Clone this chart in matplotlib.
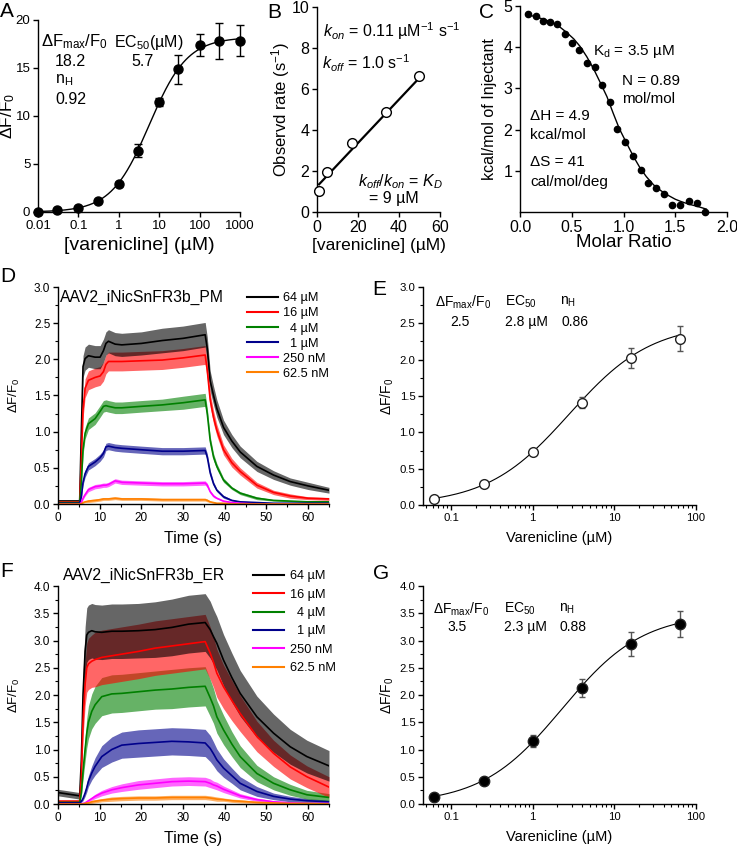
import numpy as np
import matplotlib
matplotlib.use('Agg')
import matplotlib.pyplot as plt
from matplotlib.ticker import MultipleLocator, FixedLocator, LogLocator, NullFormatter, FormatStrFormatter
from matplotlib.lines import Line2D

plt.rcParams['font.family'] = ['Liberation Sans', 'DejaVu Sans']
plt.rcParams['mathtext.fontset'] = 'custom'
plt.rcParams['mathtext.rm'] = 'Liberation Sans'
plt.rcParams['mathtext.it'] = 'Liberation Sans:italic'
plt.rcParams['mathtext.bf'] = 'Liberation Sans:bold'
plt.rcParams['axes.linewidth'] = 1.0
plt.rcParams['xtick.direction'] = 'out'
plt.rcParams['ytick.direction'] = 'out'

# ── A: varenicline dose response ─────────────────────────────────────────────
a_conc = [0.01, 0.03, 0.1, 0.3, 1, 3, 10, 30, 100, 300, 1000]
a_resp = [0.03, 0.17, 0.45, 1.15, 2.95, 6.4, 11.45, 14.85, 17.4, 17.8, 17.85]
a_err = [0.05, 0.08, 0.1, 0.12, 0.2, 0.7, 0.4, 1.5, 1.1, 1.85, 1.6]
a_top, a_ec50, a_nh = 18.2, 5.7, 0.92

# ── B: observed rate vs concentration ───────────────────────────────────────
b_conc = [1.0, 5.0, 17.0, 33.5, 50.0]
b_rate = [1.0, 1.93, 3.35, 4.86, 6.65]
b_line_x = [1.0, 50.0]
b_line_y = [1.35, 6.55]

# ── C: ITC isotherm ─────────────────────────────────────────────────────────
c_ratio = [0.08, 0.155, 0.22, 0.29, 0.36, 0.435, 0.5, 0.574, 0.65, 0.726, 0.797, 0.865,
           0.94, 1.016, 1.09, 1.168, 1.24, 1.316, 1.39, 1.468, 1.548, 1.63, 1.71, 1.79]
c_heat = [4.80, 4.76, 4.64, 4.60, 4.56, 4.31, 4.10, 3.93, 3.61, 3.51, 3.09, 2.66,
          2.02, 1.70, 1.37, 1.03, 0.70, 0.58, 0.44, 0.16, 0.16, 0.26, 0.22, 0.0]
c_fit_ratio = [0.07, 0.15, 0.25, 0.36, 0.45, 0.52, 0.58, 0.645, 0.71, 0.77, 0.84, 0.9, 0.96,
               1.03, 1.1, 1.16, 1.22, 1.29, 1.36, 1.42, 1.5, 1.55, 1.63, 1.71, 1.8]
c_fit_heat = [4.79, 4.74, 4.66, 4.54, 4.36, 4.2, 4.02, 3.77, 3.48, 3.17, 2.8, 2.4, 2.02,
              1.67, 1.33, 1.07, 0.86, 0.66, 0.52, 0.42, 0.31, 0.26, 0.19, 0.14, 0.07]

# ── D: PM traces (mean and s.e.m. band) ─────────────────────────────────────
trace_labels = ['64 µM', '16 µM', '  4 µM', '  1 µM', '250 nM', '62.5 nM']
trace_colors = ['#000000', '#ff0000', '#008000', '#00008b', '#ff00ff', '#ff8000']

d_time = [0, 5.2, 5.6, 6.0, 6.5, 7.3, 8.9, 10.1, 10.9, 11.5, 12.1, 13.7, 15.3, 20, 25, 30,
          35.3, 35.8, 36.5, 37.3, 38.1, 39.7, 41.7, 43.7, 47.7, 51.7, 55.7, 60, 65]
d_64 = [0.04, 0.04, 1.0, 1.9, 2.01, 2.05, 2.03, 2.03, 2.12, 2.22, 2.25, 2.21, 2.20, 2.22, 2.26, 2.29,
        2.34, 2.15, 1.70, 1.50, 1.32, 1.06, 0.87, 0.72, 0.52, 0.40, 0.31, 0.25, 0.19]
d_16 = [0.03, 0.03, 0.6, 1.3, 1.60, 1.71, 1.75, 1.77, 1.83, 1.93, 1.97, 1.97, 1.97, 1.98, 1.99, 2.02,
        2.06, 1.85, 1.44, 1.20, 1.02, 0.75, 0.57, 0.45, 0.26, 0.16, 0.11, 0.08, 0.07]
d_4 = [0.02, 0.02, 0.3, 0.75, 0.98, 1.11, 1.18, 1.28, 1.35, 1.36, 1.35, 1.33, 1.33, 1.35, 1.37, 1.40,
       1.44, 1.25, 0.88, 0.65, 0.52, 0.33, 0.22, 0.15, 0.08, 0.05, 0.04, 0.03, 0.03]
d_1 = [0.01, 0.01, 0.1, 0.30, 0.42, 0.52, 0.58, 0.64, 0.70, 0.79, 0.80, 0.78, 0.77, 0.75, 0.73, 0.73,
       0.74, 0.65, 0.43, 0.28, 0.19, 0.10, 0.05, 0.03, 0.02, 0.01, 0.01, 0.01, 0.01]
d_025 = [0.0, 0.0, 0.02, 0.08, 0.13, 0.20, 0.24, 0.25, 0.26, 0.26, 0.27, 0.32, 0.30, 0.29, 0.28, 0.28,
         0.29, 0.26, 0.17, 0.11, 0.08, 0.04, 0.02, 0.01, 0.0, 0.0, 0.0, 0.0, 0.0]
d_00625 = [0.0, 0.0, 0.0, 0.02, 0.03, 0.04, 0.05, 0.06, 0.07, 0.07, 0.07, 0.08, 0.07, 0.07, 0.06, 0.06,
           0.06, 0.05, 0.03, 0.02, 0.01, 0.01, 0.0, 0.0, 0.0, 0.0, 0.0, 0.0, 0.0]
d_64_sd = [0.02, 0.02, 0.1, 0.15, 0.16, 0.16, 0.16, 0.16, 0.16, 0.16, 0.16, 0.16, 0.16, 0.16, 0.17, 0.17,
           0.17, 0.16, 0.14, 0.13, 0.12, 0.1, 0.09, 0.08, 0.07, 0.06, 0.05, 0.05, 0.04]
d_16_sd = [0.02, 0.02, 0.08, 0.12, 0.13, 0.13, 0.13, 0.13, 0.13, 0.13, 0.13, 0.13, 0.13, 0.13, 0.13, 0.13,
           0.13, 0.12, 0.1, 0.09, 0.08, 0.07, 0.06, 0.05, 0.04, 0.03, 0.03, 0.02, 0.02]
d_4_sd = [0.01, 0.01, 0.04, 0.07, 0.08, 0.08, 0.08, 0.08, 0.08, 0.08, 0.08, 0.08, 0.08, 0.08, 0.08, 0.09,
          0.09, 0.08, 0.06, 0.05, 0.04, 0.03, 0.02, 0.02, 0.02, 0.01, 0.01, 0.01, 0.01]
d_1_sd = [0.01, 0.01, 0.02, 0.04, 0.05, 0.05, 0.05, 0.05, 0.05, 0.05, 0.05, 0.05, 0.05, 0.05, 0.05, 0.05,
          0.05, 0.05, 0.04, 0.03, 0.02, 0.02, 0.01, 0.01, 0.01, 0.01, 0.01, 0.01, 0.01]
d_025_sd = [0.0, 0.0, 0.01, 0.02, 0.02, 0.03, 0.03, 0.03, 0.03, 0.03, 0.03, 0.03, 0.03, 0.03, 0.03, 0.03,
            0.03, 0.03, 0.02, 0.02, 0.01, 0.01, 0.01, 0.01, 0.0, 0.0, 0.0, 0.0, 0.0]
d_00625_sd = [0.0, 0.0, 0.0, 0.01, 0.01, 0.02, 0.02, 0.02, 0.02, 0.02, 0.02, 0.02, 0.02, 0.02, 0.02, 0.02,
              0.02, 0.02, 0.01, 0.01, 0.01, 0.01, 0.0, 0.0, 0.0, 0.0, 0.0, 0.0, 0.0]

# ── F: ER traces ────────────────────────────────────────────────────────────
f_time = [0, 5.2, 5.6, 6.0, 6.5, 6.9, 7.3, 8.1, 8.9, 10.5, 12.9, 15.3, 19.3, 23.3, 27.3, 31.3,
          35.3, 36.5, 37.3, 38.1, 39.7, 41.7, 43.7, 47.7, 51.7, 55.7, 59.7, 65]
f_64 = [0.21, 0.15, 0.8, 2.0, 2.8, 3.1, 3.15, 3.18, 3.16, 3.15, 3.17, 3.17, 3.18, 3.2, 3.24, 3.3,
        3.33, 3.2, 3.07, 2.95, 2.64, 2.32, 2.03, 1.60, 1.30, 1.05, 0.87, 0.70]
f_16 = [0.05, 0.05, 0.5, 1.5, 2.2, 2.5, 2.57, 2.62, 2.65, 2.69, 2.72, 2.75, 2.8, 2.86, 2.9, 2.94,
        2.98, 2.77, 2.6, 2.40, 2.15, 1.9, 1.66, 1.24, 0.93, 0.68, 0.5, 0.31]
f_4 = [0.03, 0.03, 0.2, 0.6, 1.0, 1.3, 1.5, 1.7, 1.82, 1.97, 2.02, 2.03, 2.06, 2.09, 2.11, 2.14,
       2.16, 1.95, 1.8, 1.6, 1.36, 1.1, 0.87, 0.56, 0.38, 0.26, 0.17, 0.12]
f_1 = [0.02, 0.02, 0.05, 0.1, 0.2, 0.3, 0.42, 0.57, 0.69, 0.87, 1.0, 1.08, 1.11, 1.13, 1.15, 1.14,
       1.12, 1.02, 0.92, 0.81, 0.66, 0.52, 0.38, 0.23, 0.14, 0.09, 0.06, 0.04]
f_025 = [0.0, 0.0, 0.0, 0.01, 0.02, 0.04, 0.06, 0.1, 0.14, 0.2, 0.26, 0.3, 0.35, 0.38, 0.41, 0.42,
         0.41, 0.38, 0.35, 0.33, 0.27, 0.21, 0.15, 0.08, 0.04, 0.02, 0.01, 0.01]
f_00625 = [0.0, 0.0, 0.0, 0.0, 0.01, 0.02, 0.02, 0.04, 0.05, 0.07, 0.09, 0.1, 0.11, 0.11, 0.12, 0.12,
           0.12, 0.11, 0.1, 0.09, 0.08, 0.06, 0.05, 0.03, 0.02, 0.01, 0.01, 0.0]
f_64_sd = [0.06, 0.06, 0.2, 0.35, 0.45, 0.5, 0.5, 0.5, 0.5, 0.5, 0.5, 0.5, 0.5, 0.51, 0.52, 0.53,
           0.53, 0.52, 0.5, 0.49, 0.47, 0.45, 0.42, 0.38, 0.35, 0.32, 0.3, 0.28]
f_16_sd = [0.03, 0.03, 0.1, 0.3, 0.4, 0.45, 0.47, 0.48, 0.5, 0.5, 0.5, 0.5, 0.5, 0.5, 0.5, 0.5,
           0.5, 0.48, 0.46, 0.44, 0.4, 0.37, 0.33, 0.28, 0.24, 0.22, 0.2, 0.19]
f_4_sd = [0.02, 0.02, 0.05, 0.15, 0.22, 0.27, 0.3, 0.32, 0.34, 0.35, 0.35, 0.35, 0.35, 0.35, 0.36, 0.36,
          0.36, 0.34, 0.32, 0.3, 0.27, 0.23, 0.2, 0.15, 0.12, 0.1, 0.08, 0.07]
f_1_sd = [0.01, 0.01, 0.02, 0.04, 0.06, 0.08, 0.1, 0.13, 0.16, 0.2, 0.23, 0.24, 0.25, 0.25, 0.25, 0.25,
          0.25, 0.24, 0.22, 0.2, 0.17, 0.14, 0.12, 0.09, 0.06, 0.05, 0.04, 0.03]
f_025_sd = [0.0, 0.0, 0.0, 0.01, 0.01, 0.02, 0.02, 0.03, 0.04, 0.05, 0.06, 0.07, 0.08, 0.08, 0.08, 0.08,
            0.08, 0.08, 0.07, 0.07, 0.06, 0.05, 0.04, 0.03, 0.02, 0.02, 0.01, 0.01]
f_00625_sd = [0.01, 0.01, 0.01, 0.01, 0.02, 0.02, 0.02, 0.03, 0.03, 0.03, 0.04, 0.04, 0.04, 0.04, 0.04, 0.04,
              0.04, 0.04, 0.04, 0.04, 0.03, 0.03, 0.03, 0.02, 0.02, 0.01, 0.01, 0.01]

# ── E / G: dose response from traces ────────────────────────────────────────
eg_conc = [0.0625, 0.25, 1, 4, 16, 64]
e_resp = [0.08, 0.29, 0.73, 1.41, 2.02, 2.29]
e_err = [0.01, 0.02, 0.02, 0.08, 0.14, 0.175]
e_top, e_ec50, e_nh = 2.5, 2.8, 0.86
g_resp = [0.12, 0.43, 1.15, 2.13, 2.93, 3.30]
g_err = [0.01, 0.02, 0.11, 0.165, 0.22, 0.235]
g_top, g_ec50, g_nh = 3.5, 2.3, 0.88


def hill(x, top, ec50, nh):
    return top / (1.0 + (ec50 / x) ** nh)


W, H = 737, 846


def box(l, t, r, b):
    return [l / W, 1 - b / H, (r - l) / W, (b - t) / H]


def ftext(x, y, s, size, **kw):
    # figure text placed by pixel position (left edge, vertical centre)
    fig.text(x / W, 1 - y / H, s, fontsize=size, ha=kw.pop('ha', 'left'), va=kw.pop('va', 'center'), **kw)


def clean(ax, tsize):
    ax.spines['top'].set_visible(False)
    ax.spines['right'].set_visible(False)
    ax.tick_params(labelsize=tsize, length=3.5, width=1.0, pad=2)
    ax.tick_params(which='minor', length=2, width=0.8)


def labels(ax, xl, xs, xy, yl, ys, yx):
    ax.set_xlabel(xl, fontsize=xs)
    ax.set_ylabel(yl, fontsize=ys)
    ax.xaxis.set_label_coords(0.5, xy)
    ax.yaxis.set_label_coords(yx, 0.5)
    ax.xaxis.label.set_va('center')
    ax.yaxis.label.set_va('center')


fig = plt.figure(figsize=(W / 100, H / 100), dpi=100)

# ── Panel A ─────────────────────────────────────────────────────────────────
axA = fig.add_axes(box(38, 20, 240, 212))
xf = np.logspace(-2, 3, 300)
axA.plot(xf, hill(xf, a_top, a_ec50, a_nh), color='black', lw=1.0)
axA.errorbar(a_conc, a_resp, yerr=a_err, fmt='o', color='black', ms=6.5, capsize=3,
             elinewidth=1.0, capthick=1.0, clip_on=False, zorder=3)
axA.set_xscale('log')
axA.set_xlim(0.01, 1000)
axA.set_ylim(0, 20)
axA.xaxis.set_major_locator(FixedLocator([0.01, 0.1, 1, 10, 100, 1000]))
axA.xaxis.set_minor_locator(FixedLocator([]))
axA.set_xticklabels(['0.01', '0.1', '1', '10', '100', '1000'])
axA.yaxis.set_major_locator(MultipleLocator(5))
clean(axA, 9.5)
labels(axA, '[varenicline] (µM)', 14, -0.172, 'ΔF/F$_\\mathregular{0}$', 12.5, -0.15)
ftext(41, 42, 'ΔF$_\\mathregular{max}$/F$_\\mathregular{0}$', 12)
ftext(114, 42, 'EC$_\\mathregular{50}$(µM)', 11.5)
ftext(55, 61, '18.2', 11.5)
ftext(131, 61, '5.7', 11.5)
ftext(55, 80, 'n$_\\mathregular{H}$', 11.5)
ftext(55, 100, '0.92', 11.5)

# ── Panel B ─────────────────────────────────────────────────────────────────
axB = fig.add_axes(box(317, 7, 440, 212))
axB.plot(b_line_x, b_line_y, color='black', lw=1.6)
axB.plot(b_conc, b_rate, 'o', mfc='white', mec='black', ms=7, mew=1.0, clip_on=False, zorder=3)
axB.set_xlim(0, 60)
axB.set_ylim(0, 10)
axB.xaxis.set_major_locator(MultipleLocator(20))
axB.yaxis.set_major_locator(MultipleLocator(2))
clean(axB, 11.5)
labels(axB, '[varenicline] (µM)', 12.5, -0.161, 'Observd rate (s$^{-1}$)', 12, -0.30)
ftext(323, 31, '$k_{on}$ = 0.11 µM$^{-1}$ s$^{-1}$', 11.5)
ftext(322, 63, '$k_{off}$ = 1.0 s$^{-1}$', 11.5)
ftext(358, 182, '$k_{off}$/$k_{on}$ = $K_D$', 11.5)
ftext(369, 198, '= 9 µM', 11.5)

# ── Panel C ─────────────────────────────────────────────────────────────────
axC = fig.add_axes(box(520, 6, 727, 212))
axC.plot(c_fit_ratio, c_fit_heat, color='black', lw=1.0)
axC.plot(c_ratio, c_heat, 'o', color='black', ms=4.5, clip_on=False, zorder=3)
axC.set_xlim(0, 2.0)
axC.set_ylim(0, 5)
axC.xaxis.set_major_locator(MultipleLocator(0.5))
axC.xaxis.set_major_formatter(FormatStrFormatter('%.1f'))
axC.yaxis.set_major_locator(FixedLocator([1, 2, 3, 4, 5]))
clean(axC, 11.5)
labels(axC, 'Molar Ratio', 13.5, -0.15, 'kcal/mol of Injectant', 11.5, -0.145)
ftext(593, 52, 'K$_\\mathregular{d}$ = 3.5 µM', 11)
ftext(622, 81, 'N = 0.89', 11)
ftext(622, 99, 'mol/mol', 11)
ftext(530, 116, 'ΔH = 4.9', 11)
ftext(530, 135, 'kcal/mol', 11)
ftext(530, 162, 'ΔS = 41', 11)
ftext(530, 182, 'cal/mol/deg', 11)


# ── Trace panels D and F ────────────────────────────────────────────────────
def trace_panel(ax, t, means, sds, ymax, title, title_xy, leg_anchor, leg_spacing, xlab_y):
    # bands from lowest to highest concentration so the higher ones lie on top
    for m, s, c in list(zip(means, sds, trace_colors))[::-1]:
        m = np.array(m)
        s = np.array(s)
        ax.fill_between(t, m - s, m + s, color=c, alpha=0.6, lw=0)
    handles = []
    for m, c in zip(means, trace_colors):
        ax.plot(t, m, color=c, lw=1.2)
        handles.append(Line2D([], [], color=c, lw=1.5))
    ax.set_xlim(0, 65)
    ax.set_ylim(0, ymax)
    ax.xaxis.set_major_locator(MultipleLocator(10))
    ax.xaxis.set_minor_locator(MultipleLocator(5))
    ax.yaxis.set_major_locator(MultipleLocator(0.5))
    ax.yaxis.set_minor_locator(MultipleLocator(0.25))
    ax.yaxis.set_major_formatter(FormatStrFormatter('%.1f'))
    clean(ax, 8.5)
    labels(ax, 'Time (s)', 11.5, xlab_y, 'ΔF/F$_\\mathregular{0}$', 9.5, -0.159)
    ax.text(title_xy[0], title_xy[1], title, transform=ax.transAxes, fontsize=11.3, va='center')
    ax.legend(handles, trace_labels, loc='upper left', bbox_to_anchor=leg_anchor, frameon=False,
              fontsize=9.2, handlelength=2.4, handletextpad=0.45, labelspacing=leg_spacing,
              borderpad=0, borderaxespad=0)


axD = fig.add_axes(box(58, 287, 329, 504))
trace_panel(axD, d_time, [d_64, d_16, d_4, d_1, d_025, d_00625],
            [d_64_sd, d_16_sd, d_4_sd, d_1_sd, d_025_sd, d_00625_sd],
            3.0, 'AAV2_iNicSnFR3b_PM', (0.008, 0.954), (0.697, 0.975), 0.24, -0.157)

axF = fig.add_axes(box(58, 586, 329, 804))
trace_panel(axF, f_time, [f_64, f_16, f_4, f_1, f_025, f_00625],
            [f_64_sd, f_16_sd, f_4_sd, f_1_sd, f_025_sd, f_00625_sd],
            4.0, 'AAV2_iNicSnFR3b_ER', (0.018, 1.05), (0.72, 1.072), 0.5, -0.156)


# ── Dose response panels E and G ────────────────────────────────────────────
def dose_panel(ax, resp, err, top, ec50, nh, ymax, filled, ylab_x):
    xf = np.logspace(np.log10(eg_conc[0]), np.log10(eg_conc[-1]), 200)
    ax.plot(xf, hill(xf, top, ec50, nh), color='black', lw=0.8)
    ax.errorbar(eg_conc, resp, yerr=err, fmt='none', ecolor='#555555', elinewidth=1.0,
                capsize=2.5, capthick=1.0, zorder=3)
    ax.plot(eg_conc, resp, 'o', ms=7.5 if filled else 7, mfc='black' if filled else 'white',
            mec='#222222', mew=1.0, zorder=4)
    ax.set_xscale('log')
    ax.set_xlim(0.0454, 100)
    ax.set_ylim(0, ymax)
    ax.xaxis.set_major_locator(FixedLocator([0.1, 1, 10, 100]))
    ax.set_xticklabels(['0.1', '1', '10', '100'])
    ax.xaxis.set_minor_locator(LogLocator(base=10, subs=np.arange(2, 10)))
    ax.xaxis.set_minor_formatter(NullFormatter())
    ax.yaxis.set_major_locator(MultipleLocator(0.5))
    ax.yaxis.set_minor_locator(MultipleLocator(0.25))
    ax.yaxis.set_major_formatter(FormatStrFormatter('%.1f'))
    clean(ax, 8.2)
    labels(ax, 'Varenicline (µM)', 10.5, -0.151, 'ΔF/F$_\\mathregular{0}$', 10, ylab_x)


axE = fig.add_axes(box(423, 287, 696, 505))
dose_panel(axE, e_resp, e_err, e_top, e_ec50, e_nh, 3.0, False, -0.13)
ftext(435, 302, 'ΔF$_\\mathregular{max}$/F$_\\mathregular{0}$', 10)
ftext(505, 302, 'EC$_\\mathregular{50}$', 10)
ftext(560, 302, 'n$_\\mathregular{H}$', 10)
ftext(450, 322, '2.5', 10)
ftext(505, 322, '2.8 µM', 10)
ftext(561, 322, '0.86', 10)

axG = fig.add_axes(box(423, 586, 696, 804))
dose_panel(axG, g_resp, g_err, g_top, g_ec50, g_nh, 4.0, True, -0.13)
ftext(433, 609, 'ΔF$_\\mathregular{max}$/F$_\\mathregular{0}$', 10)
ftext(504, 609, 'EC$_\\mathregular{50}$', 10)
ftext(559, 609, 'n$_\\mathregular{H}$', 10)
ftext(447, 627, '3.5', 10)
ftext(504, 627, '2.3 µM', 10)
ftext(559, 627, '0.88', 10)

# ── Panel letters ───────────────────────────────────────────────────────────
for letter, x, y in [('A', 0, 2), ('B', 267, 3), ('C', 479, 3), ('D', 0, 267),
                     ('E', 372, 280), ('F', 0, 562), ('G', 373, 564)]:
    ftext(x, y, letter, 15, va='top')

fig.savefig('out.png', dpi=100)
